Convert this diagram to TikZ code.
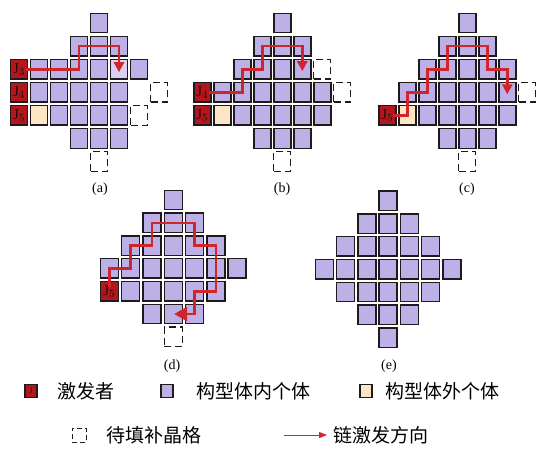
\documentclass[tikz,border=0pt]{standalone}
\usepackage{fontspec}
\setmainfont{Liberation Serif}
\newfontfamily\cjk{Noto Sans CJK SC}
\usetikzlibrary{arrows.meta}
\definecolor{lav}{HTML}{BDB0E6}
\definecolor{lavlight}{HTML}{D9D1F2}
\definecolor{beige}{HTML}{FCE6C3}
\definecolor{jred}{HTML}{B3171E}
\definecolor{jtext}{HTML}{2E0606}
\definecolor{chainred}{HTML}{D0252B}
\definecolor{cellline}{HTML}{1E1A1E}
\tikzset{
  cell/.style={draw=cellline, line width=1.4pt, fill=lav, inner sep=0pt, outer sep=0pt,
    minimum width=17pt, minimum height=19.5pt},
  bigcell/.style={cell, minimum width=18pt, minimum height=19.5pt},
  outcell/.style={cell, fill=beige},
  jcell/.style={cell, fill=jred, text=jtext, font=\fontsize{15}{15}\selectfont},
  jcellbig/.style={bigcell, fill=jred, text=jtext, font=\fontsize{15}{15}\selectfont},
  gapcell/.style={draw=cellline, line width=1.2pt, dash pattern=on 7pt off 4pt, fill=none,
    inner sep=0pt, minimum width=17pt, minimum height=19.5pt},
  chain/.style={draw=chainred, line width=2.6pt, -{Triangle[length=10pt,width=10pt]}},
  chainbig/.style={chain, -{Triangle[length=13pt,width=14pt]}},
  plabel/.style={font=\fontsize{14}{14}\selectfont, inner sep=0pt},
  legtext/.style={font=\cjk\fontsize{19}{19}\selectfont, anchor=west, inner sep=0pt},
  legbox/.style={draw=cellline, line width=1.3pt, inner sep=0pt, minimum width=12pt, minimum height=13pt}
}
\begin{document}
\begin{tikzpicture}[x=1pt,y=-1pt]
\useasboundingbox (0,0) rectangle (537,453);

% ---------- panel (a)
\begin{scope}[xshift=19pt, yshift=0.1pt, x=20pt, y=-23.1pt]
  \node[cell] (a-4-1) at (4,1) {};
  \foreach \c in {3,4,5} \node[cell] (a-\c-2) at (\c,2) {};
  \node[jcell] (a-0-3) at (0,3) {$\mathrm{J}_3$};
  \foreach \c in {1,2,3,4,6} \node[cell] (a-\c-3) at (\c,3) {};
  \node[cell, fill=lavlight] (a-5-3) at (5,3) {};
  \node[jcell] (a-0-4) at (0,4) {$\mathrm{J}_4$};
  \foreach \c in {1,...,5} \node[cell] (a-\c-4) at (\c,4) {};
  \node[jcell] (a-0-5) at (0,5) {$\mathrm{J}_5$};
  \node[outcell] (a-1-5) at (1,5) {};
  \foreach \c in {2,...,5} \node[cell] (a-\c-5) at (\c,5) {};
  \foreach \c in {3,4,5} \node[cell] (a-\c-6) at (\c,6) {};
  \node[gapcell] (a-7-4) at (7,4) {};
  \node[gapcell] (a-6-5) at (6,5) {};
  \node[gapcell] (a-4-7) at (4,7) {};
  \draw[chain] ([xshift=-2pt]a-0-3.east) -| (a-3-2.center) -| ([yshift=-3pt]a-5-3.center);
\end{scope}
\node[plabel] (la) at (100,189) {(a)};

% ---------- panel (b)
\begin{scope}[xshift=202.3pt, yshift=0.1pt, x=20pt, y=-23.1pt]
  \node[cell] (b-4-1) at (4,1) {};
  \foreach \c in {3,4,5} \node[cell] (b-\c-2) at (\c,2) {};
  \foreach \c in {2,3,4,5} \node[cell] (b-\c-3) at (\c,3) {};
  \node[jcell] (b-0-4) at (0,4) {$\mathrm{J}_4$};
  \foreach \c in {1,...,6} \node[cell] (b-\c-4) at (\c,4) {};
  \node[jcell] (b-0-5) at (0,5) {$\mathrm{J}_5$};
  \node[outcell] (b-1-5) at (1,5) {};
  \foreach \c in {2,...,6} \node[cell] (b-\c-5) at (\c,5) {};
  \foreach \c in {3,4,5} \node[cell] (b-\c-6) at (\c,6) {};
  \node[gapcell] (b-6-3) at (6,3) {};
  \node[gapcell] (b-7-4) at (7,4) {};
  \node[gapcell] (b-4-7) at (4,7) {};
  \draw[chain] ([xshift=-2pt]b-0-4.east) -| (b-2-3.center) -| (b-3-2.center) -| ([yshift=-2pt]b-5-3.center);
\end{scope}
\node[plabel] (lb) at (282,189) {(b)};

% ---------- panel (c)
\begin{scope}[xshift=387.3pt, yshift=0.1pt, x=20pt, y=-23.1pt]
  \node[cell] (c-4-1) at (4,1) {};
  \foreach \c in {3,4,5} \node[cell] (c-\c-2) at (\c,2) {};
  \foreach \c in {2,...,6} \node[cell] (c-\c-3) at (\c,3) {};
  \foreach \c in {1,...,6} \node[cell] (c-\c-4) at (\c,4) {};
  \node[jcell] (c-0-5) at (0,5) {$\mathrm{J}_5$};
  \node[outcell] (c-1-5) at (1,5) {};
  \foreach \c in {2,...,6} \node[cell] (c-\c-5) at (\c,5) {};
  \foreach \c in {3,4,5} \node[cell] (c-\c-6) at (\c,6) {};
  \node[gapcell] (c-7-4) at (7,4) {};
  \node[gapcell] (c-4-7) at (4,7) {};
  \draw[chain] ([xshift=-3pt]c-0-5.east) -| (c-1-4.center) -| (c-2-3.center) -| (c-3-2.center)
     -| (c-5-3.center) -| ([yshift=-2pt]c-6-4.center);
\end{scope}
\node[plabel] (lc) at (467,189) {(c)};

% ---------- panel (d)
\begin{scope}[xshift=88pt, yshift=-177.2pt, x=21.3pt, y=-22.8pt]
  \node[bigcell] (d-4-1) at (4,1) {};
  \foreach \c in {3,4,5} \node[bigcell] (d-\c-2) at (\c,2) {};
  \foreach \c in {2,...,6} \node[bigcell] (d-\c-3) at (\c,3) {};
  \foreach \c in {1,...,7} \node[bigcell] (d-\c-4) at (\c,4) {};
  \node[jcellbig] (d-1-5) at (1,5) {$\mathrm{J}_5$};
  \foreach \c in {2,...,6} \node[bigcell] (d-\c-5) at (\c,5) {};
  \foreach \c in {3,4,5} \node[bigcell] (d-\c-6) at (\c,6) {};
  \node[gapcell, minimum width=18pt, minimum height=19.5pt] (d-4-7) at (4,7) {};
  \draw[chainbig] ([yshift=-6pt]d-1-5.north) |- (d-2-4.center) |- (d-3-3.center) |- (d-5-2.center)
     |- (d-6-3.center) |- (d-5-5.center) |- ([xshift=1pt]d-4-6.center);
\end{scope}
\node[plabel] (ld) at (172,366) {(d)};

% ---------- panel (e)
\begin{scope}[xshift=302.9pt, yshift=-178pt, x=21.3pt, y=-22.8pt]
  \node[bigcell] (e-4-1) at (4,1) {};
  \foreach \c in {3,4,5} \node[bigcell] (e-\c-2) at (\c,2) {};
  \foreach \c in {2,...,6} \node[bigcell] (e-\c-3) at (\c,3) {};
  \foreach \c in {1,...,7} \node[bigcell] (e-\c-4) at (\c,4) {};
  \foreach \c in {2,...,6} \node[bigcell] (e-\c-5) at (\c,5) {};
  \foreach \c in {3,4,5} \node[bigcell] (e-\c-6) at (\c,6) {};
  \node[bigcell] (e-4-7) at (4,7) {};
\end{scope}
\node[plabel] (le) at (389,366) {(e)};

% ---------- legend
\node[legbox, fill=jred, text=jtext, font=\fontsize{8}{8}\selectfont] (k1) at (31,391) {J};
\node[legtext] (t1) at (57,391) {激发者};
\node[legbox, fill=lav] (k2) at (167,391) {};
\node[legtext] (t2) at (196,391) {构型体内个体};
\node[legbox, fill=beige] (k3) at (366,391) {};
\node[legtext] (t3) at (385,391) {构型体外个体};
\node[gapcell, line width=1pt, dash pattern=on 5pt off 3pt, minimum width=14pt, minimum height=14pt] (k4) at (79,435) {};
\node[legtext] (t4) at (106,435) {待填补晶格};
\coordinate (k5s) at (284,435);
\coordinate (k5e) at (327,435);
\draw[draw=chainred, line width=1pt, -{Triangle[length=8pt,width=6pt]}] (k5s) -- (k5e);
\node[legtext] (t5) at (333,435) {链激发方向};
\end{tikzpicture}
\end{document}
